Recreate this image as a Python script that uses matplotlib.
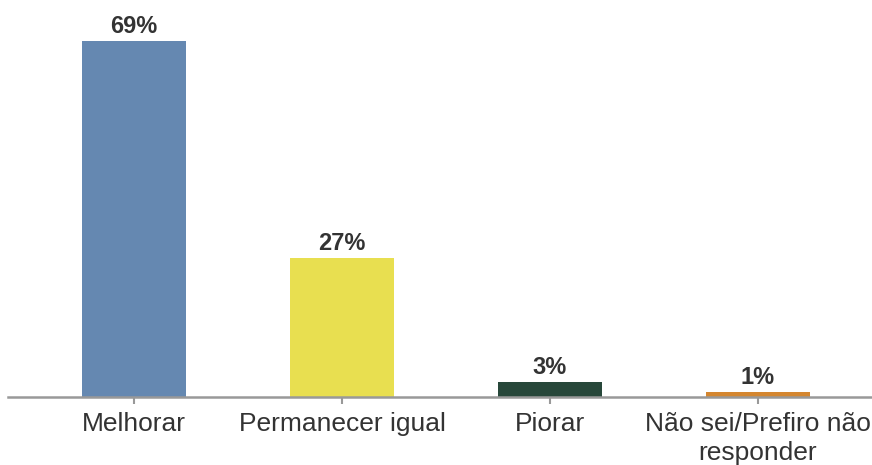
import matplotlib.pyplot as plt

# Survey answers and percentages
categories = ['Melhorar', 'Permanecer igual', 'Piorar', 'Não sei/Prefiro não\nresponder']
values = [69, 27, 3, 1]
colors = ['#6588b1', '#e8df50', '#27473a', '#d4862f']

plt.rcParams['font.family'] = ['Liberation Sans', 'DejaVu Sans']

fig = plt.figure(figsize=(8.72, 4.65), dpi=100)
ax = fig.add_axes([8 / 872, 0.146, 864 / 872, 0.854])

x = range(len(categories))
bars = ax.bar(x, values, width=0.5, color=colors)

for b, v in zip(bars, values):
    ax.annotate(f'{v}%', (b.get_x() + b.get_width() / 2, b.get_height()),
                xytext=(0, 2), textcoords='offset points',
                ha='center', va='bottom', fontsize=17, fontweight='bold', color='#333333')

ax.set_xlim(-0.606, 3.548)
ax.set_ylim(0, 77)
ax.set_xticks(list(x))
ax.set_xticklabels(categories, fontsize=19, color='#333333', linespacing=1.25)
ax.tick_params(axis='x', length=5, width=1.5, color='#999999', pad=6)
ax.set_yticks([])

for s in ['top', 'right', 'left']:
    ax.spines[s].set_visible(False)
ax.spines['bottom'].set_color('#999999')
ax.spines['bottom'].set_linewidth(1.8)

fig.savefig('out.png', dpi=100)
